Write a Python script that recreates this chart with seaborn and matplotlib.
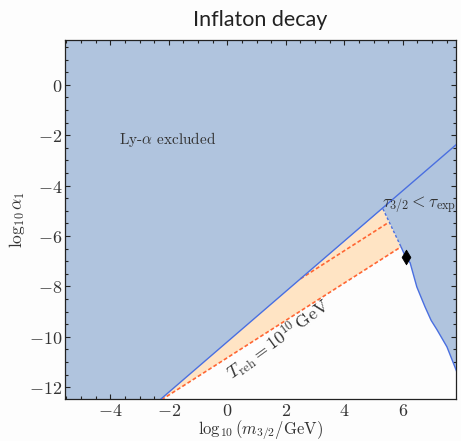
import matplotlib
matplotlib.use("Agg")
import matplotlib.pyplot as plt
import seaborn as sns
import numpy as np
import pandas as pd
from matplotlib.ticker import MultipleLocator, FuncFormatter

# ---- data ----
blue_x = [-2.30, 7.85]
blue_y = [-12.50, -2.35]
kink_x, kink_y = 5.32, -4.92
# right boundary (tau_{3/2} < tau_exp)
rb_dash_x = [5.32, 5.94]
rb_dash_y = [-4.92, -6.43]
rb_x = [5.94, 6.11, 6.25, 6.48, 6.66, 6.76, 6.97, 7.17, 7.51, 7.78, 7.85]
rb_y = [-6.43, -6.87, -7.06, -8.02, -8.53, -8.81, -9.35, -9.72, -10.40, -11.19, -11.40]
# reheating temperature contours
ld_x = [-2.25, 5.94]
ld_y = [-12.50, -6.43]
ud_x = [2.50, 5.49]
ud_y = [-7.70, -5.48]
pt_x = [6.11]
pt_y = [-6.85]

xlim = (-5.55, 7.82)
ylim = (-12.47, 1.78)

sns.set_theme(style="ticks")
plt.rcParams["mathtext.fontset"] = "cm"
plt.rcParams["axes.unicode_minus"] = True

fig = plt.figure(figsize=(4.61, 4.41), dpi=100)
fig.patch.set_facecolor("#fdfdfd")
ax = fig.add_axes([65/461, 1-399/441, (456-65)/461, (399-40)/441])
ax.set_facecolor("#b0c4de")

# white allowed region (below line, left of right boundary)
wx = [blue_x[0], kink_x] + rb_dash_x[1:] + rb_x[1:] + [rb_x[-1], blue_x[0]]
wy = [blue_y[0], kink_y] + rb_dash_y[1:] + rb_y[1:] + [ylim[0]-1, ylim[0]-1]
ax.fill(wx, wy, color="#fdfdfd", lw=0, zorder=1)

# orange region between blue line and lower dashed line
ox = [blue_x[0], kink_x] + rb_dash_x[1:] + [ld_x[0]]
oy = [blue_y[0], kink_y] + rb_dash_y[1:] + [ld_y[0]]
ax.fill(ox, oy, color="#ffe4c4", lw=0, zorder=2)

lc = "#4a6fe0"
sns.lineplot(x=blue_x, y=blue_y, color=lc, lw=1.0, ax=ax, zorder=4)
sns.lineplot(x=rb_dash_x, y=rb_dash_y, color=lc, lw=1.0, ls=(0, (2, 1.5)), ax=ax, zorder=4)
sns.lineplot(x=rb_x, y=rb_y, color=lc, lw=1.0, ax=ax, zorder=4, sort=False)
dc = "#ff6633"
sns.lineplot(x=ld_x, y=ld_y, color=dc, lw=1.2, ls=(0, (2.3, 1.4)), ax=ax, zorder=3)
sns.lineplot(x=ud_x, y=ud_y, color=dc, lw=1.2, ls=(0, (2.3, 1.4)), ax=ax, zorder=3)
sns.scatterplot(x=pt_x, y=pt_y, marker="d", s=55, color="black", edgecolor="black", ax=ax, zorder=6)

ax.set_xlim(*xlim)
ax.set_ylim(*ylim)

ax.xaxis.set_major_locator(MultipleLocator(2))
ax.xaxis.set_minor_locator(MultipleLocator(0.5))
ax.yaxis.set_major_locator(MultipleLocator(2))
ax.yaxis.set_minor_locator(MultipleLocator(0.5))
fmt = FuncFormatter(lambda v, p: r"$%d$" % int(round(v)))
ax.xaxis.set_major_formatter(fmt)
ax.yaxis.set_major_formatter(fmt)
ax.tick_params(which="both", direction="in", top=True, right=True, colors="#222222",
               labelcolor="#333333", labelsize=13, width=0.8, pad=2)
ax.tick_params(which="major", length=3.5)
ax.tick_params(which="minor", length=2)
for s in ax.spines.values():
    s.set_linewidth(0.9)
    s.set_color("#222222")

ax.set_xlabel(r"$\log_{10}(m_{3/2}/\mathrm{GeV})$", fontsize=12, color="#333333", labelpad=-1)
ax.set_ylabel(r"$\log_{10}\alpha_1$", fontsize=12.5, color="#333333", labelpad=1)
ax.set_title("Inflaton decay", family="Lato", fontweight="normal", fontsize=15.5,
             color="#222222", pad=10)

ax.text(-2.05, -2.18, r"Ly-$\alpha$ excluded", family="cmr10", fontsize=11,
        color="#333333", ha="center", va="center", zorder=7)
ax.text(6.55, -4.75, r"$\tau_{3/2} < \tau_{\rm exp}$", fontsize=12.5,
        color="#333333", ha="center", va="center", zorder=7)
ax.text(1.75, -10.1, r"$T_{\rm reh} = 10^{10}\,\mathrm{GeV}$", fontsize=13,
        color="#333333", ha="center", va="center", rotation=36, zorder=7)

fig.savefig("out.png", dpi=100, facecolor=fig.get_facecolor())
